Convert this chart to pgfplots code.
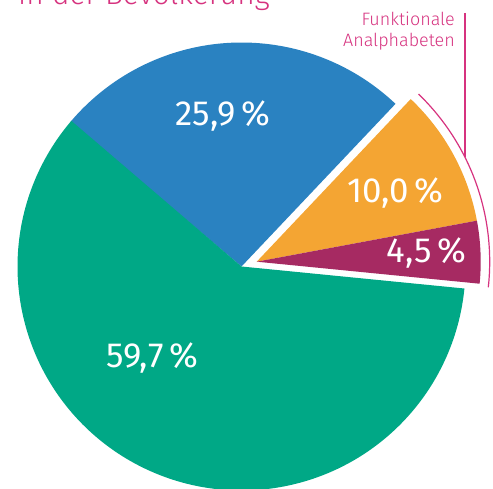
\documentclass[border=0pt]{standalone}
\usepackage{fontspec}
\setmainfont{Fira Sans}[UprightFont={* Light}]
\newfontfamily\pctfont{Fira Sans}
\usepackage{pgfplots}
\pgfplotsset{compat=1.18}
\definecolor{cblue}{HTML}{2A82C1}
\definecolor{cgreen}{HTML}{00A886}
\definecolor{corange}{HTML}{F4A533}
\definecolor{cpurple}{HTML}{A62A62}
\definecolor{cmag}{HTML}{D6337F}
\begin{document}
\begin{tikzpicture}
% shares (percent)
\def\vBlue{25.9}
\def\vOrange{10.0}
\def\vPurple{4.5}
\def\vGreen{59.7}
\pgfmathsetmacro\aS{139.8}
\pgfmathsetmacro\aA{\aS-3.6*\vBlue}
\pgfmathsetmacro\aB{\aA-3.6*\vOrange}
\pgfmathsetmacro\aC{\aB-3.6*\vPurple}
\pgfmathsetmacro\aD{\aC-3.6*\vGreen}
\def\cx{241.5}\def\cy{222.5}
\def\ex{256.7}\def\ey{227.3}
\def\R{224}
\begin{axis}[
  scale only axis, width=493bp, height=489bp,
  xmin=0, xmax=493, ymin=0, ymax=489,
  hide axis, clip=false,
]
\addplot[fill=cblue, draw=none, domain=\aA:\aS, samples=90]
  ({\cx+\R*cos(x)},{\cy+\R*sin(x)}) -- (axis cs:\cx,\cy) -- cycle;
\addplot[fill=cgreen, draw=none, domain=\aD:\aC, samples=180]
  ({\cx+\R*cos(x)},{\cy+\R*sin(x)}) -- (axis cs:\cx,\cy) -- cycle;
\addplot[fill=corange, draw=none, domain=\aB:\aA, samples=60]
  ({\ex+\R*cos(x)},{\ey+\R*sin(x)}) -- (axis cs:\ex,\ey) -- cycle;
\addplot[fill=cpurple, draw=none, domain=\aC:\aB, samples=40]
  ({\ex+\R*cos(x)},{\ey+\R*sin(x)}) -- (axis cs:\ex,\ey) -- cycle;
% bracket arc for the exploded slices
\addplot[cmag, line width=1.2bp, domain=-6.3:46, samples=80]
  ({\ex+233*cos(x)},{\ey+233*sin(x)});
\addplot[cmag, line width=1.2bp] coordinates {(465,476) (465,332)};
% labels
\tikzset{pct/.style={text=white, font=\pctfont\fontsize{35}{40}\selectfont, inner sep=0pt}}
\node[pct] at (axis cs:223,373) {25,9\,\%};
\node[pct] at (axis cs:152.5,131) {59,7\,\%};
\node[pct] at (axis cs:395.5,296) {10,0\,\%};
\node[pct] at (axis cs:426.5,236) {4,5\,\%};
\node[text=cmag, font=\fontsize{18}{20.5}\selectfont, anchor=base east, inner sep=0pt]
  at (axis cs:455,463) {Funktionale};
\node[text=cmag, font=\fontsize{18}{20.5}\selectfont, anchor=base east, inner sep=0pt]
  at (axis cs:455,442.5) {Analphabeten};
\node[text=cmag, font=\fontsize{30}{34}\selectfont, anchor=base west, inner sep=0pt]
  at (axis cs:18,484) {in der Bevölkerung};
\end{axis}
\pgfresetboundingbox
\path[use as bounding box] (0,0) rectangle (493bp,489bp);
\end{tikzpicture}
\end{document}
